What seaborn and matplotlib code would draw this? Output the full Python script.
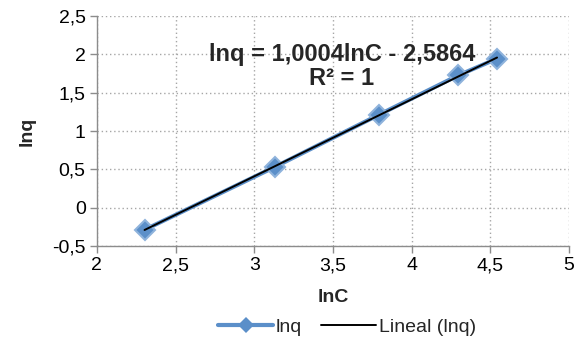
import numpy as np
import pandas as pd
import matplotlib
matplotlib.use("Agg")
import matplotlib.pyplot as plt
import seaborn as sns

# Data
lnC = [2.303, 3.135, 3.795, 4.295, 4.543]
lnq = [-0.29, 0.535, 1.215, 1.725, 1.945]
x_ticks = [2, 2.5, 3, 3.5, 4, 4.5, 5]
y_ticks = [-0.5, 0, 0.5, 1, 1.5, 2, 2.5]
equation = "lnq = 1,0004lnC - 2,5864"
r2_text = "R² = 1"

sns.set_style("white")
plt.rcParams['font.family'] = ['Liberation Sans', 'DejaVu Sans']

df = pd.DataFrame({"lnC": lnC, "lnq": lnq})
slope, intercept = np.polyfit(lnC, lnq, 1)
trend = pd.DataFrame({"lnC": [min(lnC), max(lnC)]})
trend["lnq"] = slope * trend["lnC"] + intercept

fig = plt.figure(figsize=(5.8, 3.43), dpi=100)
ax = fig.add_axes([0.167, 0.283, 0.814, 0.670])

blue = "#5B8FC9"
sns.lineplot(data=df, x="lnC", y="lnq", ax=ax, color=blue, linewidth=3,
             marker="D", markersize=10, markeredgecolor="#8FB3DC", markeredgewidth=1.5,
             markerfacecolor=blue, label="lnq", sort=False)
sns.lineplot(data=trend, x="lnC", y="lnq", ax=ax, color="black", linewidth=1.4,
             label="Lineal (lnq)")

ax.set_xlim(2, 5)
ax.set_ylim(-0.5, 2.5)
ax.set_xticks(x_ticks)
ax.set_yticks(y_ticks)
fmt = lambda v: ("%g" % v).replace(".", ",")
ax.set_xticklabels([fmt(v) for v in x_ticks], fontsize=14)
ax.set_yticklabels([fmt(v) for v in y_ticks], fontsize=14)

ax.grid(True, color="#A6A6A6", linestyle=(0, (1, 2)), linewidth=1)
for s in ["top", "right"]:
    ax.spines[s].set_visible(False)
for s in ["left", "bottom"]:
    ax.spines[s].set_color("#8C8C8C")
    ax.spines[s].set_linewidth(1)
ax.tick_params(axis="both", direction="out", length=5, width=1, color="#8C8C8C",
               colors="black", pad=3, bottom=True, left=True)

ax.set_xlabel("lnC", fontsize=14, fontweight="bold", labelpad=11)
ax.set_ylabel("lnq", fontsize=14, fontweight="bold", labelpad=12)

ax.text(3.557, 2.0, equation, fontsize=17, fontweight="bold", ha="center", va="center")
ax.text(3.557, 1.69, r2_text, fontsize=17, fontweight="bold", ha="center", va="center")

leg = ax.legend(loc="center", bbox_to_anchor=(0.53, -0.352), ncol=2, frameon=False,
                fontsize=14, handlelength=2.8, handletextpad=0.15, columnspacing=1.0)
leg.legend_handles[0].set_markersize(8)
leg.legend_handles[0].set_markeredgewidth(0)

fig.savefig("out.png", dpi=100)
